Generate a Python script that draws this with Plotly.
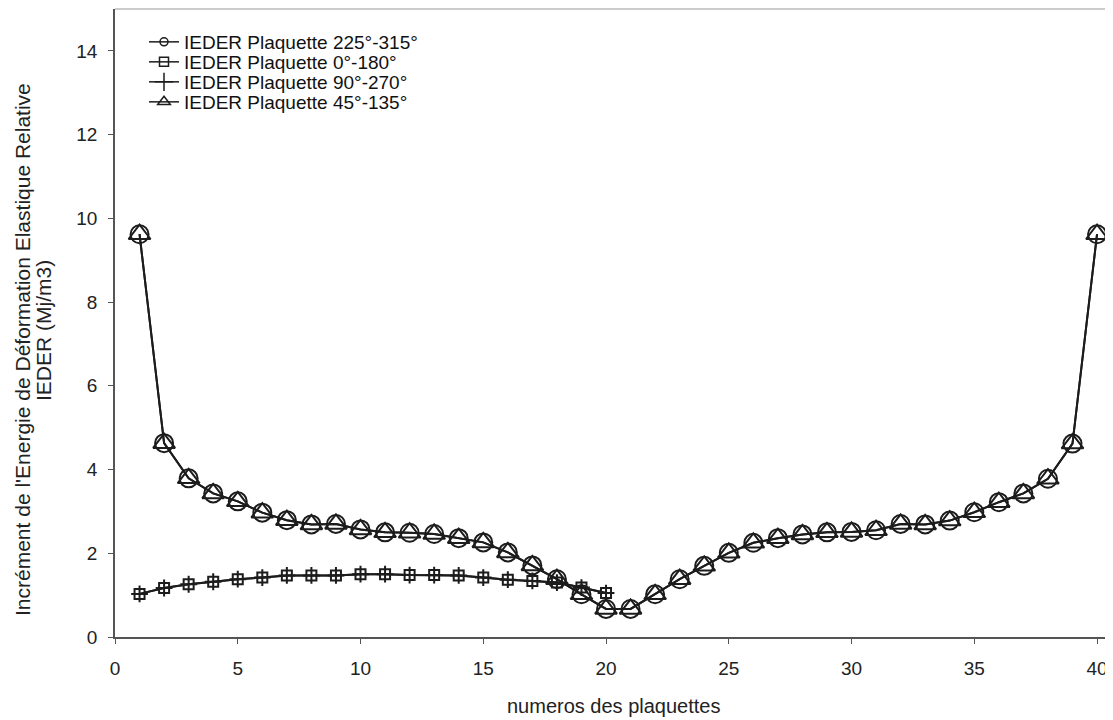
import plotly.graph_objects as go

# ---- data ----
plaquettes_full = list(range(1, 41))
plaquettes_half = list(range(1, 21))

ieder_225_315 = [9.62, 4.63, 3.79, 3.43, 3.24, 2.97, 2.79, 2.69, 2.70, 2.57,
                 2.50, 2.49, 2.46, 2.36, 2.26, 2.02, 1.71, 1.38, 1.02, 0.67,
                 0.67, 1.02, 1.38, 1.70, 2.01, 2.25, 2.36, 2.45, 2.50, 2.51,
                 2.55, 2.70, 2.69, 2.78, 2.98, 3.22, 3.43, 3.78, 4.62, 9.62]
ieder_45_135 = list(ieder_225_315)
ieder_0_180 = [1.03, 1.17, 1.26, 1.32, 1.38, 1.42, 1.47, 1.47, 1.47, 1.50,
               1.50, 1.48, 1.48, 1.47, 1.42, 1.37, 1.34, 1.30, 1.18, 1.05]
ieder_90_270 = list(ieder_0_180)

names = ["IEDER Plaquette 225°-315°", "IEDER Plaquette 0°-180°",
         "IEDER Plaquette 90°-270°", "IEDER Plaquette 45°-135°"]
x_ticks = [0, 5, 10, 15, 20, 25, 30, 35, 40]
y_ticks = [0, 2, 4, 6, 8, 10, 12, 14]

LINE = "#1c1c1c"
FONT = "Liberation Sans, Arial, sans-serif"

fig = go.Figure()

series = [
    (plaquettes_full, ieder_225_315, "circle-open", 18, 8),
    (plaquettes_half, ieder_0_180, "square-open", 10, 9),
    (plaquettes_half, ieder_90_270, "cross-thin-open", 12, 13),
    (plaquettes_full, ieder_45_135, "triangle-up-open", 19, 11),
]
legends = ["legend", "legend2", "legend3", "legend4"]

for (xs, ys, sym, sz, lsz), nm, lg in zip(series, names, legends):
    fig.add_trace(go.Scatter(
        x=xs, y=ys, mode="lines+markers", name=nm, showlegend=False,
        line=dict(color=LINE, width=2),
        marker=dict(symbol=sym, size=sz, color=LINE, line=dict(color=LINE, width=2)),
    ))
    fig.add_trace(go.Scatter(
        x=[None], y=[None], mode="lines+markers", name=nm, legend=lg,
        line=dict(color=LINE, width=1.5),
        marker=dict(symbol=sym, size=lsz, color=LINE, line=dict(color=LINE, width=1.5)),
    ))

# page offset (default body margin of the html page)
OFF = 8
W, H = 1113 - OFF, 720 - OFF
# plot area in screen pixels: x 115..1113, y 9..637
L = 115 - OFF
T = max(9 - OFF, 0)
R = 0
B = H - (637 - OFF)
pw = W - L - R
ph = H - T - B

def ypos(py):  # screen pixel -> paper
    return (H - B - (py - OFF)) / ph

def xpos(px):
    return ((px - OFF) - L) / pw

leg_common = dict(x=xpos(144), xanchor="left", yanchor="middle",
                  bgcolor="rgba(0,0,0,0)", borderwidth=0,
                  font=dict(family=FONT, size=19, color="#111"),
                  itemwidth=30)
fig.update_layout(
    legend=dict(y=ypos(42), **leg_common),
    legend2=dict(y=ypos(62), **leg_common),
    legend3=dict(y=ypos(82), **leg_common),
    legend4=dict(y=ypos(102), **leg_common),
)

fig.update_layout(
    width=W, height=H,
    margin=dict(l=L, r=R, t=T, b=B, pad=0),
    paper_bgcolor="white", plot_bgcolor="white",
    font=dict(family=FONT, size=19, color="#222"),
    xaxis=dict(range=[0, 40.65], tickmode="array", tickvals=x_ticks, automargin=False,
               showgrid=False, zeroline=False, showline=True, linecolor="#555", linewidth=1.5,
               ticks="outside", ticklen=5, tickcolor="#555", tickwidth=1,
               ticklabelstandoff=8,
               tickfont=dict(family=FONT, size=19, color="#222")),
    yaxis=dict(range=[0, 15], tickmode="array", tickvals=y_ticks, automargin=False,
               showgrid=False, zeroline=False, showline=True, linecolor="#555", linewidth=1.5,
               ticks="outside", ticklen=5, tickcolor="#555", tickwidth=1,
               ticklabelstandoff=7,
               tickfont=dict(family=FONT, size=19, color="#222")),
    showlegend=True,
)

fig.add_shape(type="line", xref="paper", yref="paper", x0=0, x1=1, y0=1, y1=1,
              line=dict(color="#999", width=1))

fig.add_annotation(
    text="Incrément de l'Energie de Déformation Elastique Relative",
    xref="paper", yref="paper", x=xpos(23), y=ypos(350),
    xanchor="center", yanchor="middle", textangle=-90, showarrow=False,
    font=dict(family=FONT, size=21, color="#222"),
)
fig.add_annotation(
    text="IEDER (Mj/m3)",
    xref="paper", yref="paper", x=xpos(43), y=ypos(331),
    xanchor="center", yanchor="middle", textangle=-90, showarrow=False,
    font=dict(family=FONT, size=21, color="#222"),
)
fig.add_annotation(
    text="numeros des plaquettes", xref="paper", yref="paper",
    x=xpos(613), y=ypos(706), xanchor="center", yanchor="middle",
    showarrow=False, font=dict(family=FONT, size=20, color="#222"),
)

fig.write_html("out.html")
